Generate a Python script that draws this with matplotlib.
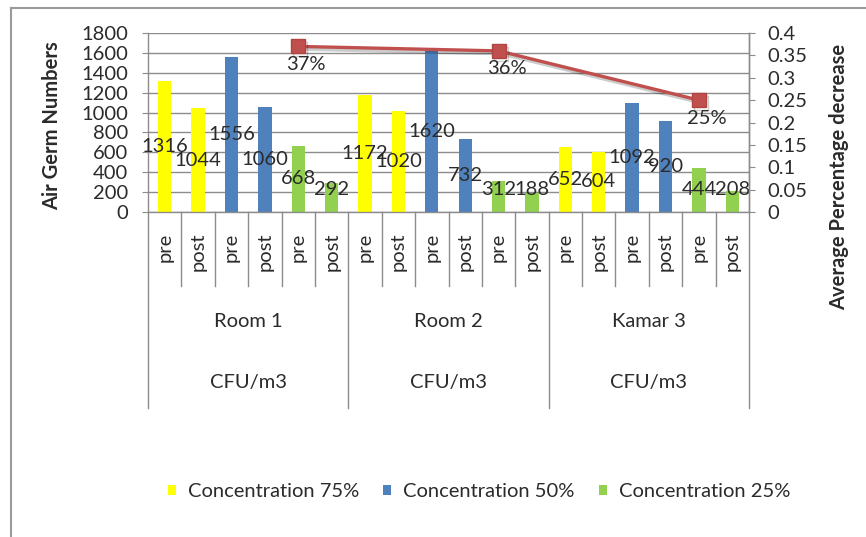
import matplotlib
matplotlib.use("Agg")
import matplotlib.pyplot as plt
import matplotlib.patheffects as pe
from matplotlib.lines import Line2D

plt.rcParams['font.family'] = ['Lato', 'DejaVu Sans']

# ---------------- data ----------------
rooms = ["Room 1", "Room 2", "Kamar 3"]
unit_label = "CFU/m3"
phases = ["pre", "post"]
series_names = ["Concentration 75%", "Concentration 50%", "Concentration 25%"]
conc75 = [1316, 1044, 1172, 1020, 652, 604]   # pre, post per room
conc50 = [1556, 1060, 1620, 732, 1092, 920]
conc25 = [668, 292, 312, 188, 444, 208]
avg_decrease = [0.37, 0.36, 0.25]
left_ticks = [0, 200, 400, 600, 800, 1000, 1200, 1400, 1600, 1800]
right_ticks = [0, 0.05, 0.1, 0.15, 0.2, 0.25, 0.3, 0.35, 0.4]

colors = ["#FFFF00", "#4F81BD", "#92D050"]
line_color = "#C0504D"
grid_c = "#8C8C8C"
text_c = "#2b2b2b"
FS = 14.5

# category layout: per room -> 75 pre, 75 post, 50 pre, 50 post, 25 pre, 25 post
all_series = [conc75, conc50, conc25]
n_per_room = 6
cat_labels = []
for r in range(len(rooms)):
    for s in range(3):
        cat_labels += phases

fig = plt.figure(figsize=(8.66, 5.37), dpi=100)
W, H = 866, 537
px_l, px_r, px_t, px_b = 148, 749, 33, 212
ax = fig.add_axes([px_l / W, 1 - px_b / H, (px_r - px_l) / W, (px_b - px_t) / H])

ax.set_xlim(-0.5, len(cat_labels) - 0.5)
ax.set_ylim(0, 1800)
ax.set_yticks(left_ticks)
ax.yaxis.grid(True, color=grid_c, lw=1)
ax.set_axisbelow(True)

# bars
bar_handles = []
for s, vals in enumerate(all_series):
    xs = []
    for r in range(len(rooms)):
        for p in range(2):
            xs.append(r * n_per_room + s * 2 + p)
    bc = ax.bar(xs, vals, width=0.4, color=colors[s], label=series_names[s], zorder=2)
    bar_handles.append(bc)
    for x, v in zip(xs, vals):
        ax.text(x, max(v / 2, 225), str(v), ha='center', va='center',
                fontsize=FS, color=text_c, zorder=3)

# axes styling
ax.spines['top'].set_visible(False)
for sp in ['left', 'right', 'bottom']:
    ax.spines[sp].set_color(grid_c)
    ax.spines[sp].set_linewidth(1)
ax.tick_params(axis='y', direction='out', length=4.5, color=grid_c, pad=10,
               labelsize=FS, labelcolor=text_c)
ax.set_xticks(range(len(cat_labels)))
ax.set_xticklabels(cat_labels, rotation=90, fontsize=FS, color=text_c)
ax.tick_params(axis='x', length=0, pad=15)

# category separators below the axis
tr = ax.get_xaxis_transform()
ax_h = px_b - px_t
short_end = -(286 - px_b) / ax_h
long_end = -(408 - px_b) / ax_h
for k in range(len(cat_labels) + 1):
    xb = k - 0.5
    end = long_end if k % n_per_room == 0 else short_end
    ax.plot([xb, xb], [0, end], transform=tr, color=grid_c, lw=1, clip_on=False)
for r, name in enumerate(rooms):
    xc = r * n_per_room + (n_per_room - 1) / 2
    ax.text(xc, -(321.7 - px_b) / ax_h, name, transform=tr, ha='center', va='center',
            fontsize=FS, color=text_c)
    ax.text(xc, -(383 - px_b) / ax_h, unit_label, transform=tr, ha='center', va='center',
            fontsize=FS, color=text_c)

ax.set_ylabel("Air Germ Numbers", fontsize=FS, fontweight='bold', color=text_c)
ax.yaxis.set_label_coords((62 - px_l) / (px_r - px_l), (px_b - 126) / ax_h)

# secondary axis with line
ax2 = ax.twinx()
ax2.set_ylim(0, 0.4)
ax2.set_yticks(right_ticks)
ax2.set_yticklabels([f"{v:g}" for v in right_ticks])
for sp in ['top', 'left', 'bottom']:
    ax2.spines[sp].set_visible(False)
ax2.spines['right'].set_color(grid_c)
ax2.spines['right'].set_linewidth(1)
ax2.tick_params(axis='y', direction='out', length=4, color=grid_c, pad=9,
                labelsize=FS, labelcolor=text_c)
line_x = [r * n_per_room + 4 for r in range(len(rooms))]
ax2.plot(line_x, avg_decrease, color=line_color, lw=2.4, marker='s', markersize=10,
         markerfacecolor=line_color, markeredgecolor="#B04440", zorder=5,
         path_effects=[pe.SimpleLineShadow(offset=(1.5, -2), alpha=0.2), pe.Normal()])
for x, v in zip(line_x, avg_decrease):
    ax2.annotate(f"{v:.0%}", (x, v), xytext=(8, -18), textcoords='offset pixels',
                 ha='center', va='center', fontsize=FS, color=text_c, zorder=6)
ax2.set_ylabel("Average Percentage decrease", fontsize=FS, fontweight='bold', color=text_c)
ax2.yaxis.set_label_coords((829 - px_l) / (px_r - px_l), (px_b - 177) / ax_h)

# legend
fig.legend(handles=bar_handles, labels=series_names, loc='center',
           bbox_to_anchor=(479 / W, 1 - 491.7 / H), ncol=3, frameon=False,
           fontsize=FS, handlelength=0.4, handleheight=0.45, handletextpad=0.6,
           columnspacing=1.2, labelcolor=text_c)

# outer frame (left and top)
fig.add_artist(Line2D([10.5 / W, 10.5 / W], [0, 1 - 8 / H], color="#9a9a9a", lw=1.5))
fig.add_artist(Line2D([10.5 / W, 1], [1 - 8 / H, 1 - 8 / H], color="#9a9a9a", lw=1.5))

fig.savefig("out.png", dpi=100)
